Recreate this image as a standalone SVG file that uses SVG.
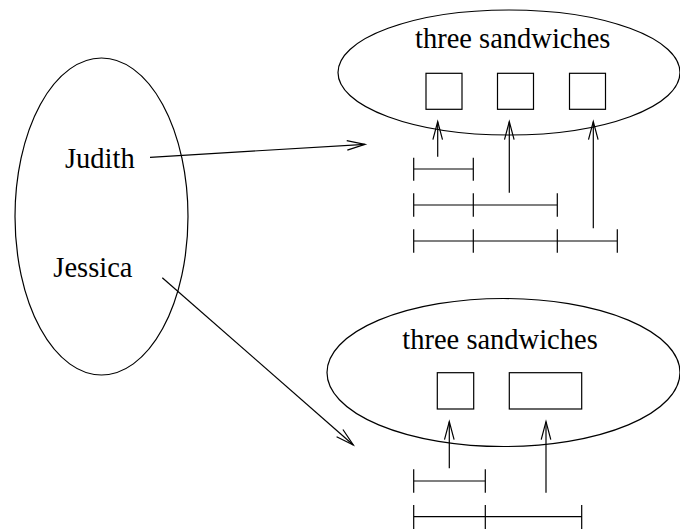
<svg xmlns="http://www.w3.org/2000/svg" width="680" height="529" viewBox="0 0 680 529">
<style>
.s{fill:none;stroke:#000;stroke-width:1.2}
.t{font-family:"Liberation Serif","Times New Roman",serif;font-size:28.5px;fill:#000}
</style>
<defs>
<marker id="ah" markerUnits="userSpaceOnUse" markerWidth="24" markerHeight="14" viewBox="-20 -7 24 14" refX="0" refY="0" orient="auto" overflow="visible">
<path d="M-18,-4.8 L0,0 L-18,4.8" fill="none" stroke="#000" stroke-width="1.2"/>
</marker>
</defs>
<rect width="680" height="529" fill="#fff"/>
<g id="people">
<ellipse class="s" cx="101.5" cy="216.5" rx="86.5" ry="158.5"/>
<text class="t" x="65" y="168.3">Judith</text>
<text class="t" x="53.3" y="277.2">Jessica</text>
</g>
<g id="top-set">
<ellipse class="s" cx="509" cy="72.5" rx="171" ry="62.5"/>
<text class="t" x="415" y="48.3">three sandwiches</text>
<rect class="s" x="426" y="73.3" width="36" height="36"/>
<rect class="s" x="497.5" y="73.3" width="36" height="36"/>
<rect class="s" x="569.5" y="73.3" width="36" height="36"/>
</g>
<g id="top-intervals">
<path class="s" d="M413.7,169H473.3M413.7,157.7V180.7M473.3,157.7V180.7"/>
<path class="s" d="M413.7,205H557.3M413.7,193.3V216.7M473.3,193.3V216.7M557.3,193.3V216.7"/>
<path class="s" d="M413.7,241H617.3M413.7,229.3V252.7M473.3,229.3V252.7M557.3,229.3V252.7M617.3,229.3V252.7"/>
</g>
<g id="bottom-set">
<ellipse class="s" cx="503.5" cy="372.5" rx="176.5" ry="74"/>
<text class="t" x="402.3" y="349">three sandwiches</text>
<rect class="s" x="437.3" y="372.7" width="36.4" height="36.3"/>
<rect class="s" x="509.3" y="372.7" width="72.4" height="36.3"/>
</g>
<g id="bottom-intervals">
<path class="s" d="M413.7,481H485.3M413.7,469.3V492.7M485.3,469.3V492.7"/>
<path class="s" d="M413.7,516.7H581.7M413.7,505V529M485.3,505V529M581.7,505V529"/>
</g>
<g id="connectors">
<line class="s" x1="150" y1="157.3" x2="365" y2="144.3" marker-end="url(#ah)"/>
<line class="s" x1="162.3" y1="277.7" x2="353.3" y2="445" marker-end="url(#ah)"/>
<line class="s" x1="437.7" y1="156.7" x2="437.7" y2="121.7" marker-end="url(#ah)"/>
<line class="s" x1="509.3" y1="192.7" x2="509.3" y2="121.7" marker-end="url(#ah)"/>
<line class="s" x1="593.3" y1="228.3" x2="593.3" y2="121.7" marker-end="url(#ah)"/>
<line class="s" x1="449.3" y1="468.3" x2="449.3" y2="421.7" marker-end="url(#ah)"/>
<line class="s" x1="546" y1="492.7" x2="546" y2="421.7" marker-end="url(#ah)"/>
</g>
</svg>
